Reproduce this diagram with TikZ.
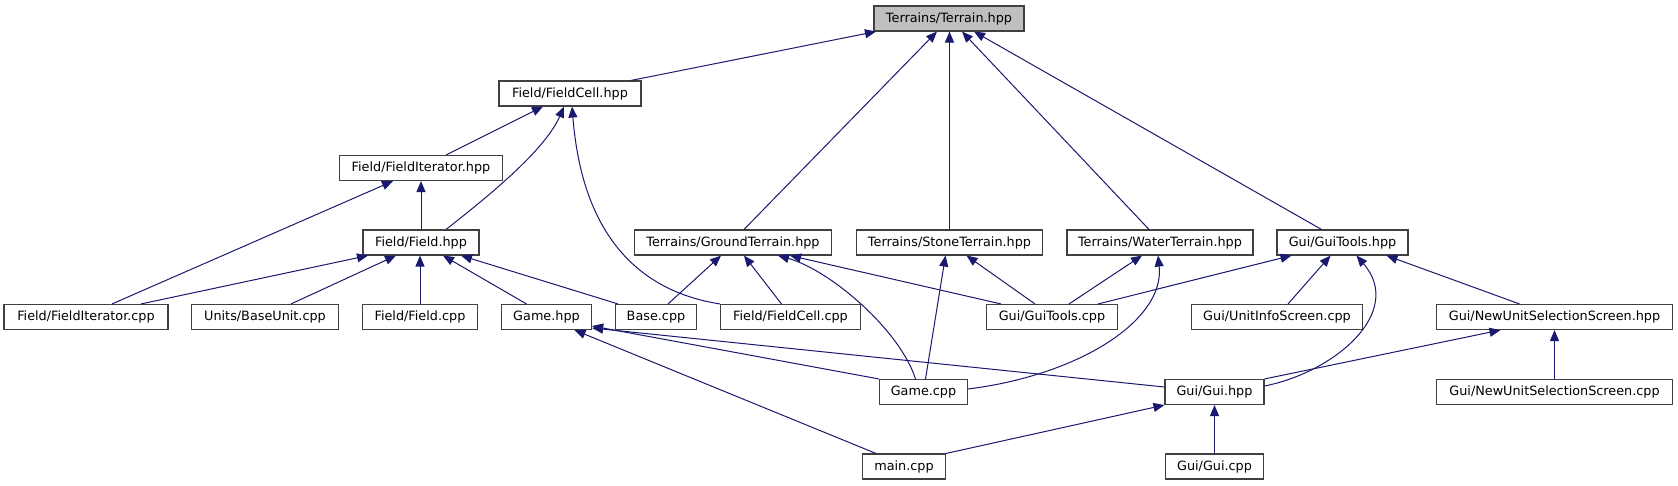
\documentclass[tikz,border=0pt]{standalone}
\usepackage{fontspec}
\setmainfont{DejaVu Sans}
\usepackage{tikz}
\usetikzlibrary{shapes.geometric, arrows.meta}
\definecolor{edgeblue}{HTML}{191970}
\definecolor{boxline}{HTML}{404040}
\definecolor{rootfill}{HTML}{BFBFBF}
\tikzstyle{file} = [
    rectangle,
    minimum height=25pt,
    inner sep=0pt,
    line width=1.1pt,
    draw=boxline,
    font=\fontsize{12.8}{14}\selectfont
]
\tikzstyle{root} = [
    file,
    fill=rootfill
]
\tikzstyle{arrow} = [edgeblue, line width=1pt, ->, >={Triangle[length=11pt,width=9pt]}]

\begin{document}
\begin{tikzpicture}[x=1pt, y=-1pt]

\fill [white] (0,0) rectangle (1678,485);
\useasboundingbox (0,0) rectangle (1678,485);

\node (terrain) [root, minimum width=150pt] at (949,18.5) {Terrains/Terrain.hpp};

\node (fieldcell) [file, minimum width=142pt] at (570,93.5) {Field/FieldCell.hpp};

\node (fielditer) [file, minimum width=163pt] at (421,168) {Field/FieldIterator.hpp};

\node (field) [file, minimum width=116pt] at (421,242.5) {Field/Field.hpp};
\node (ground) [file, minimum width=197pt] at (733,242.5) {Terrains/GroundTerrain.hpp};
\node (stone) [file, minimum width=186pt] at (949.5,242.5) {Terrains/StoneTerrain.hpp};
\node (water) [file, minimum width=186pt] at (1160,242.5) {Terrains/WaterTerrain.hpp};
\node (guitools) [file, minimum width=131pt] at (1342.5,242.5) {Gui/GuiTools.hpp};

\node (fielditercpp) [file, minimum width=164pt] at (86,317) {Field/FieldIterator.cpp};
\node (baseunit) [file, minimum width=147pt] at (265,317) {Units/BaseUnit.cpp};
\node (fieldcpp) [file, minimum width=115pt] at (420,317) {Field/Field.cpp};
\node (gamehpp) [file, minimum width=90pt] at (546.5,317) {Game.hpp};
\node (basecpp) [file, minimum width=81pt] at (656,317) {Base.cpp};
\node (fieldcellcpp) [file, minimum width=140pt] at (790.5,317) {Field/FieldCell.cpp};
\node (guitoolscpp) [file, minimum width=131pt] at (1052,317) {Gui/GuiTools.cpp};
\node (unitinfo) [file, minimum width=171pt] at (1277,317) {Gui/UnitInfoScreen.cpp};
\node (newunit) [file, minimum width=236pt] at (1554.5,317) {Gui/NewUnitSelectionScreen.hpp};

\node (gamecpp) [file, minimum width=88pt] at (923.5,392) {Game.cpp};
\node (gui) [file, minimum width=99pt] at (1214.5,392) {Gui/Gui.hpp};
\node (newunitcpp) [file, minimum width=236pt] at (1554.5,392) {Gui/NewUnitSelectionScreen.cpp};

\node (maincpp) [file, minimum width=83pt] at (904,466.5) {main.cpp};
\node (guicpp) [file, minimum width=98pt] at (1214.5,466.5) {Gui/Gui.cpp};

% includes of Terrain.hpp
\draw [arrow] ([xshift=61pt]fieldcell.north) -- ([xshift=-73pt]terrain.south);
\draw [arrow] ([xshift=11pt]ground.north) -- ([xshift=-12pt]terrain.south);
\draw [arrow] (stone.north) -- (stone.north |- terrain.south);
\draw [arrow] ([xshift=-11pt]water.north) -- ([xshift=13pt]terrain.south);
\draw [arrow] ([xshift=-21pt]guitools.north) -- ([xshift=25pt]terrain.south);

% field headers
\draw [arrow] ([xshift=25pt]fielditer.north) -- ([xshift=-27pt]fieldcell.south);
\draw [arrow] ([xshift=25pt]field.north) .. controls (490,195) and (545,150) .. ([xshift=-6pt]fieldcell.south);
\draw [arrow] (fieldcellcpp.north west) .. controls (600,285) and (578,180) .. ([xshift=2pt]fieldcell.south);
\draw [arrow] (field.north) -- (fielditer.south);
\draw [arrow] ([xshift=26pt]fielditercpp.north) -- ([xshift=-28pt]fielditer.south);
\draw [arrow] ([xshift=55pt]fielditercpp.north) -- ([xshift=-53pt]field.south);
\draw [arrow] ([xshift=26pt]baseunit.north) -- ([xshift=-25pt]field.south);
\draw [arrow] (fieldcpp.north) -- (fieldcpp.north |- field.south);
\draw [arrow] ([xshift=-20pt]gamehpp.north) -- ([xshift=22pt]field.south);
\draw [arrow] ([xshift=-38pt]basecpp.north) -- ([xshift=40pt]field.south);

% terrain headers
\draw [arrow] ([xshift=12pt]basecpp.north) -- ([xshift=-12pt]ground.south);
\draw [arrow] ([xshift=-9pt]fieldcellcpp.north) -- ([xshift=11pt]ground.south);
\draw [arrow] ([xshift=-8pt]gamecpp.north) .. controls (900,330) and (830,270) .. ([xshift=45pt]ground.south);
\draw [arrow] ([xshift=-51pt]guitoolscpp.north) -- ([xshift=57pt]ground.south);
\draw [arrow] ([xshift=2pt]gamecpp.north) -- ([xshift=-4pt]stone.south);
\draw [arrow] ([xshift=-17pt]guitoolscpp.north) -- ([xshift=17pt]stone.south);
\draw [arrow] ([xshift=17pt]guitoolscpp.north) -- ([xshift=-18pt]water.south);
\draw [arrow] ([yshift=3pt]gamecpp.east) .. controls (1080,375) and (1165,320) .. ([xshift=-2pt]water.south);

% gui headers
\draw [arrow] ([xshift=46pt]guitoolscpp.north) -- ([xshift=-51pt]guitools.south);
\draw [arrow] ([xshift=11pt]unitinfo.north) -- ([xshift=-12pt]guitools.south);
\draw [arrow] ([yshift=6pt]gui.east) .. controls (1335,372) and (1405,312) .. ([xshift=14pt]guitools.south);
\draw [arrow] ([xshift=-35pt]newunit.north) -- ([xshift=44pt]guitools.south);
\draw [arrow] (gamecpp.north west) -- ([yshift=-9pt]gamehpp.east);
\draw [arrow] ([yshift=5pt]gui.west) -- ([yshift=-11pt]gamehpp.east);
\draw [arrow] ([xshift=-28pt]maincpp.north) -- ([xshift=28pt]gamehpp.south);
\draw [arrow] (maincpp.north east) -- (gui.south west);
\draw [arrow] (gui.north east) -- ([xshift=-54pt]newunit.south);
\draw [arrow] (guicpp.north) -- (gui.south);
\draw [arrow] (newunitcpp.north) -- (newunit.south);

\end{tikzpicture}
\end{document}
